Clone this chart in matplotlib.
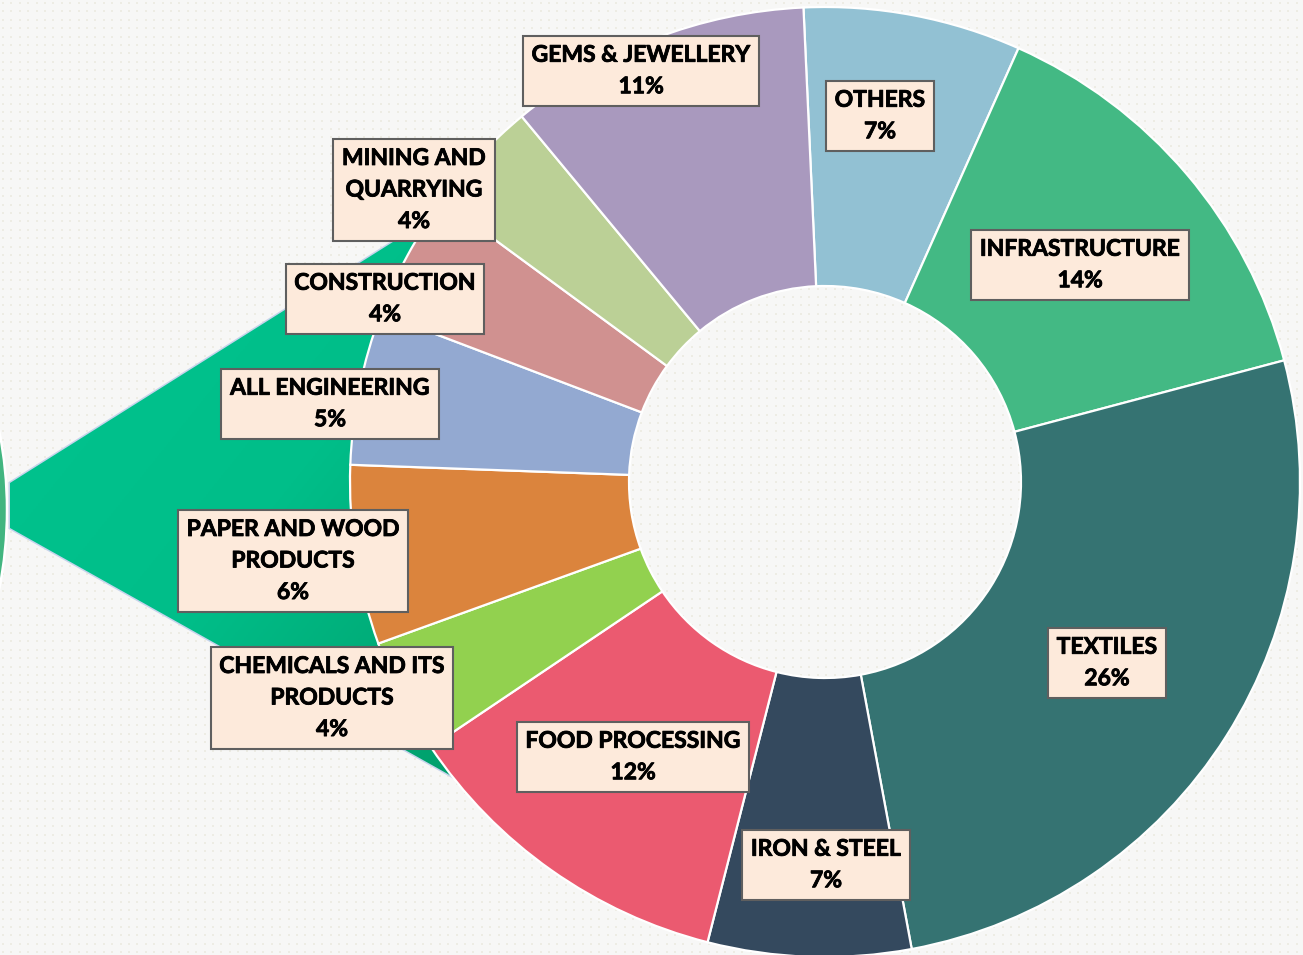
import numpy as np
import matplotlib
matplotlib.use("Agg")
import matplotlib.pyplot as plt
from matplotlib.patches import Polygon, Circle
from matplotlib.colors import LinearSegmentedColormap
import matplotlib.patheffects as pe

# ---------------- data ----------------
sectors = ["OTHERS", "INFRASTRUCTURE", "TEXTILES", "IRON & STEEL",
           "FOOD PROCESSING", "CHEMICALS AND ITS\nPRODUCTS",
           "PAPER AND WOOD\nPRODUCTS", "ALL ENGINEERING", "CONSTRUCTION",
           "MINING AND\nQUARRYING", "GEMS & JEWELLERY"]
shares = [7.4, 14.2, 26.2, 6.9, 11.6, 3.9, 6.1, 5.2, 4.3, 3.9, 10.3]
pct_labels = [7, 14, 26, 7, 12, 4, 6, 5, 4, 4, 11]
colors = ["#92C1D3", "#43B984", "#357372", "#34495E", "#EB5A70", "#92D14F",
          "#DB843D", "#93A9D1", "#D09190", "#BBD096", "#A999BE"]

# label box centres (pixel positions in the 1303x955 canvas)
label_px = [(880, 116), (1080, 265), (1107, 663), (826, 865), (633, 757),
            (332, 698), (293, 561), (330, 404), (385, 299), (414, 190),
            (641, 71)]

W, H = 1303, 955
CX, CY, R, RIN = 825, 482, 475, 196


def px(x, y):
    return ((np.asarray(x) - CX) / R, (CY - np.asarray(y)) / R)


fig = plt.figure(figsize=(W / 100, H / 100), dpi=100)
fig.patch.set_facecolor("#F7F7F6")
ax = fig.add_axes([0, 0, 1, 1])
ax.set_xlim(-CX / R, (W - CX) / R)
ax.set_ylim((CY - H) / R, CY / R)
ax.set_aspect("equal")
ax.axis("off")

# dotted background
gx = np.arange(3, W, 8.4)
gy = np.arange(3, H, 8.4)
GX, GY = np.meshgrid(gx, gy)
dx, dy = px(GX.ravel(), GY.ravel())
ax.scatter(dx, dy, s=1.2, marker="s", color="#EDECE4", linewidths=0, zorder=0)

# decorative arc at left edge
circ_c = px(-400, 510)
ax.add_patch(Circle(circ_c, 407 / R, facecolor="#42B580", edgecolor="white",
                    lw=1.8, zorder=1))

# decorative teal shape behind the donut, with gradient
poly_pts = [px(10, 483), px(520, 162), px(560, 500), px(560, 837), px(10, 528)]
poly = Polygon(poly_pts, closed=True, facecolor="none", edgecolor="#C6D4EC",
               lw=2.2, zorder=1)
ax.add_patch(poly)
grad = np.linspace(0, 1, 256)
G = (grad[None, :] * 0.5 + grad[:, None] * 0.5)
cmap = LinearSegmentedColormap.from_list("tg", ["#00C590", "#00BE89", "#00925F"])
x0, y0 = px(0, 150)
x1, y1 = px(560, 850)
im = ax.imshow(G, cmap=cmap, extent=[x0, x1, y1, y0], origin="upper",
               zorder=1.5, aspect="auto")
clip = Polygon(poly_pts, closed=True, transform=ax.transData)
im.set_clip_path(clip)

# donut
wedges, _ = ax.pie(shares, colors=colors, startangle=92.6, counterclock=False,
                   radius=1.0,
                   wedgeprops=dict(width=(R - RIN) / R, edgecolor="white",
                                   linewidth=1.6),
                   normalize=True)
for w in wedges:
    w.set_zorder(2)
ax.set_xlim(-CX / R, (W - CX) / R)
ax.set_ylim((CY - H) / R, CY / R)

# labels
for name, p, pos in zip(sectors, pct_labels, label_px):
    x, y = px(*pos)
    t = ax.text(x, y, f"{name}\n{p}%", ha="center", va="center",
                fontsize=16.5, fontweight="bold", family=["Lato", "DejaVu Sans"],
                linespacing=1.62, color="black", zorder=5,
                bbox=dict(boxstyle="square,pad=0.38", facecolor="#FDEADB",
                          edgecolor="#5F5F5F", linewidth=1.5))
    t.set_path_effects([pe.withStroke(linewidth=0.6, foreground="black")])

fig.savefig("out.png", dpi=100, facecolor=fig.get_facecolor())
